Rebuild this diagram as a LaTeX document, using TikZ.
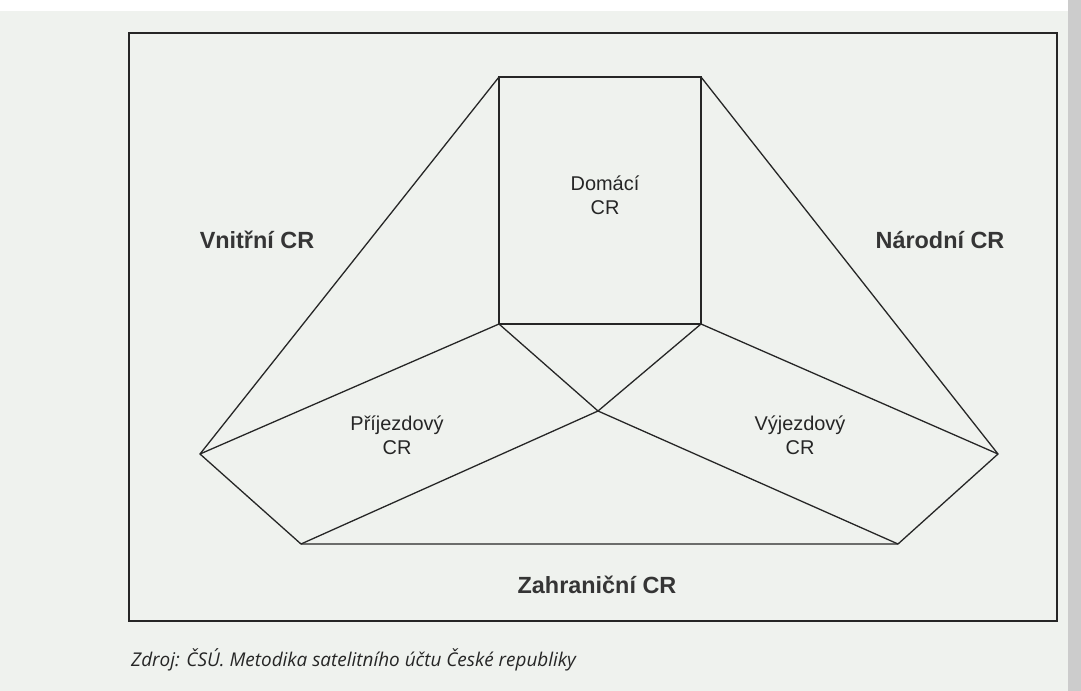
\documentclass[tikz,border=0pt]{standalone}
\usepackage{fontspec}
\setmainfont{Liberation Sans}
\newfontfamily\capfont{Open Sans}
\definecolor{paper}{HTML}{EFF2EE}
\definecolor{ink}{HTML}{262626}
\definecolor{boldink}{HTML}{353535}
\tikzset{
  edge/.style={draw=ink, line width=1.3bp, line join=miter},
  frame/.style={draw=ink, line width=1.5bp},
  part/.style={text=ink, align=center, font=\fontsize{20}{24}\selectfont, inner sep=0pt},
  whole/.style={text=boldink, font=\fontsize{23.5}{27}\selectfont\bfseries, inner sep=0pt},
  source/.style={text=ink, anchor=west, font=\capfont\itshape\fontsize{19}{22}\selectfont, inner sep=0pt}
}
\begin{document}
\begin{tikzpicture}[x=1bp, y=-1bp]
  % page
  \fill[paper] (0,0) rectangle (1081,691);
  \useasboundingbox (0,0) rectangle (1081,691);
  \fill[white] (0,0) rectangle (1081,11);
  \fill[black!20] (1068,0) rectangle (1081,691);

  % outer frame
  \draw[frame] (129,33) rectangle (1057,621);

  % vertices of the scheme
  \coordinate (A)  at (499,77);
  \coordinate (B)  at (701,77);
  \coordinate (C)  at (701,324);
  \coordinate (D)  at (499,324);
  \coordinate (L)  at (200,454);
  \coordinate (R)  at (998,454);
  \coordinate (BL) at (301,544);
  \coordinate (BR) at (898,544);
  \coordinate (M)  at (598,411);

  % domestic square and outer outline
  \draw[edge] (A) -- (B) -- (C) -- (D) -- cycle;
  \draw[edge] (A) -- (L) -- (BL) -- (BR) -- (R) -- (B);
  % inbound and outbound bands
  \draw[edge] (D) -- (L);
  \draw[edge] (C) -- (R);
  \draw[edge] (D) -- (M);
  \draw[edge] (C) -- (M);
  \draw[edge] (M) -- (BL);
  \draw[edge] (M) -- (BR);

  % labels of the parts
  \node[part] (dom) at (605,195) {Domácí\\CR};
  \node[part] (pri) at (397,435) {Příjezdový\\CR};
  \node[part] (vyj) at (800,435) {Výjezdový\\CR};

  % labels of the aggregates
  \node[whole] (vni) at (257,240) {Vnitřní CR};
  \node[whole] (nar) at (940,240) {Národní CR};
  \node[whole] (zah) at (597,585) {Zahraniční CR};

  % source line
  \node[source] (src) at (131,660) {Zdroj: ČSÚ. Metodika satelitního účtu České republiky};
\end{tikzpicture}
\end{document}
